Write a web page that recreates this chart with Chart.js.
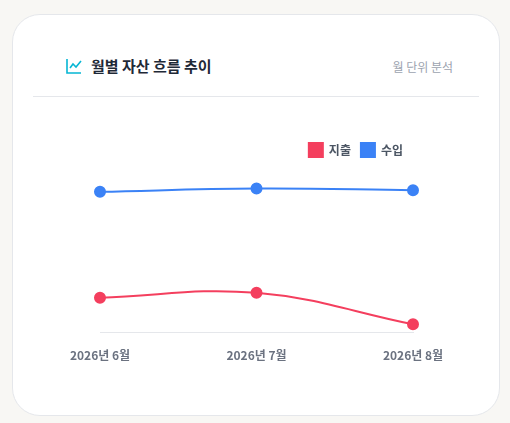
<!DOCTYPE html>
<html><head><meta charset="utf-8">
<script src="https://cdn.jsdelivr.net/npm/chart.js@4/dist/chart.umd.min.js"></script>
<style>
body{margin:0;background:#f8f7f4;font-family:"Noto Sans CJK KR","Noto Sans",sans-serif;}
.card{position:absolute;left:12px;top:14px;width:488px;height:402px;background:#fff;border:1px solid #e5e7eb;border-radius:28px;box-sizing:border-box;}
.head{position:absolute;left:20px;right:20px;top:0;height:81px;border-bottom:1px solid #e5e7eb;}
.title{position:absolute;left:52px;top:40px;font-size:15px;font-weight:700;color:#1f2937;}
.title svg{vertical-align:-3px;margin-right:8px;}
.sub{position:absolute;right:46px;top:43px;font-size:12px;color:#9ca3af;}
.wrap{position:absolute;left:47px;top:118px;width:400px;height:238px;}
</style></head><body>
<div class="card"><div class="head"></div>
<div class="title"><svg width="18" height="18" viewBox="0 0 18 18" fill="none" stroke="#06b6d4" stroke-width="1.6"><path d="M2 2v14h14"/><path d="M5 11l3-4 3 3 5-6"/></svg>월별 자산 흐름 추이</div>
<div class="sub">월 단위 분석</div>
<div class="wrap"><canvas id="c"></canvas></div></div>
<script>
const months = ['2026년 6월', '2026년 7월', '2026년 8월'];
const expense = [1050000, 1200000, 250000];
const income = [4250000, 4350000, 4300000];

new Chart(document.getElementById('c'), {
    type: 'line',
    data: {
        labels: months,
        datasets: [{
            label: '지출', data: expense,
            borderColor: '#f43f5e', backgroundColor: '#f43f5e',
            borderWidth: 2, tension: 0.4, pointRadius: 5
        }, {
            label: '수입', data: income,
            borderColor: '#3b82f6', backgroundColor: '#3b82f6',
            borderWidth: 2, tension: 0.4, pointRadius: 5
        }]
    },
    options: {
        responsive: true, maintainAspectRatio: false, animation: false,
        layout: {padding: {left: 40, right: 47}},
        plugins: {
            legend: {
                align: 'end',
                labels: {boxWidth: 14, boxHeight: 14, padding: 10,
                    font: {family: '"Noto Sans CJK KR"', size: 12, weight: 'bold'}, color: '#4b5563'}
            }
        },
        scales: {
            y: {display: false, min: 0, max: 5000000},
            x: {
                grid: {display: false},
                border: {color: '#e5e7eb'},
                ticks: {font: {family: '"Noto Sans CJK KR"', size: 12, weight: 'bold'}, color: '#6b7280', padding: 8}
            }
        }
    }
});
</script></body></html>
